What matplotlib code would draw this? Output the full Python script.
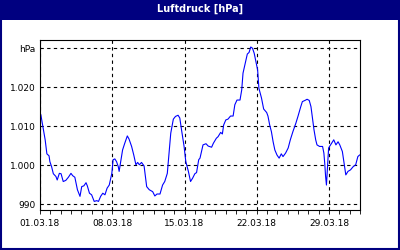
#!/usr/bin/env python3
from datetime import datetime, timedelta
import matplotlib
matplotlib.use("Agg")
import matplotlib.pyplot as plt
import matplotlib.dates as mdates
from matplotlib.patches import Rectangle

# hours since 01.03.18 00:00
hours = [2, 4, 8, 12, 16, 21, 23, 27, 31, 37, 40, 45, 49, 54, 60, 66, 72, 76, 81, 87,
         93, 97, 102, 107, 110, 115, 120, 126, 132, 136, 141, 146, 151, 156, 161, 167,
         170, 174, 178, 182, 184, 187, 192, 197, 203, 207, 213, 218, 223, 227, 231, 236,
         242, 248, 254, 262, 267, 272, 279, 285, 290, 296, 300, 304, 310, 315, 321, 325,
         329, 335, 339, 345, 350, 355, 360, 364, 369, 372, 379, 386, 391, 399, 403, 410,
         414, 420, 424, 427, 432, 437, 443, 449, 453, 458, 465, 469, 472, 479, 482, 486,
         490, 494, 498, 502, 506, 509, 515, 520, 527, 530, 534, 538, 542, 546, 551, 556,
         561, 565, 571, 577, 582, 588, 595, 600, 606, 610, 616, 621, 626, 630, 633, 637,
         641, 644, 650, 657, 660, 662, 664, 666, 668, 671, 678, 683, 688, 693, 697, 703,
         707, 711, 716, 722, 728, 734, 739, 743]
pressure = [1012.9, 1011.6, 1009.0, 1006.5, 1002.9, 1002.4, 1000.9, 999.6, 997.8, 997.1,
            996.2, 997.9, 997.8, 995.8, 996.1, 996.9, 997.9, 997.3, 996.9, 993.7,
            992.0, 994.5, 994.7, 995.5, 994.7, 992.8, 992.4, 990.7, 990.9, 990.7,
            992.0, 992.8, 992.4, 994.1, 994.9, 997.9, 1001.4, 1001.6, 1000.9, 999.6,
            998.4, 1000.5, 1003.9, 1005.6, 1007.5, 1006.7, 1004.8, 1002.6, 1000.1, 1000.7,
            1000.1, 1000.7, 999.8, 994.5, 993.7, 993.2, 992.1, 992.6, 992.6, 994.9,
            995.8, 997.9, 1003.1, 1008.2, 1011.8, 1012.5, 1012.8, 1012.1, 1009.1, 1004.8,
            1000.9, 998.4, 995.8, 996.7, 997.8, 998.1, 1001.4, 1001.8, 1005.2, 1005.5,
            1004.9, 1004.6, 1005.6, 1006.9, 1007.3, 1008.4, 1008.0, 1010.3, 1011.6, 1011.8,
            1012.6, 1012.6, 1015.5, 1016.7, 1016.7, 1019.3, 1023.6, 1027.0, 1028.5, 1028.9,
            1030.3, 1030.0, 1028.7, 1026.6, 1024.4, 1019.7, 1017.2, 1014.4, 1013.5, 1012.6,
            1010.3, 1008.6, 1006.0, 1003.9, 1002.6, 1001.8, 1002.9, 1002.2, 1003.1, 1004.4,
            1006.5, 1008.6, 1010.8, 1012.6, 1014.9, 1016.3, 1016.6, 1016.9, 1016.6, 1015.0,
            1012.5, 1009.1, 1006.5, 1005.2, 1004.8, 1004.8, 1003.1, 1000.5, 997.1, 994.9,
            998.8, 1004.4, 1005.6, 1006.5, 1005.2, 1006.0, 1005.2, 1003.5, 1000.5, 997.5,
            998.4, 998.8, 999.6, 1000.1, 1002.2, 1002.6]

y_ticks = [990, 1000, 1010, 1020, 1030]
y_labels = ["990", "1.000", "1.010", "1.020", "hPa"]
week_days = [1, 8, 15, 22, 29]

NAVY = "#000080"
start = datetime(2018, 3, 1)
times = [start + timedelta(hours=h) for h in hours]

fig = plt.figure(figsize=(4, 2.5), dpi=100)
fig.patch.set_facecolor("white")

# title bar and frame
fig.patches.append(Rectangle((0, 0.92), 1, 0.08, transform=fig.transFigure,
                             facecolor=NAVY, edgecolor="none", zorder=0))
fig.patches.append(Rectangle((0.002, 0.003), 0.995, 0.995, transform=fig.transFigure,
                             facecolor="none", edgecolor=NAVY, linewidth=1.5, zorder=1))
fig.text(0.5, 0.963, "Luftdruck [hPa]", color="white", fontsize=7, fontweight="bold",
         ha="center", va="center")

ax = fig.add_axes([0.1, 0.16, 0.8, 0.68])
ax.plot(times, pressure, color="#0000ff", linewidth=0.8)

ax.set_xlim(start, start + timedelta(days=31))
ax.set_ylim(988.5, 1032.1)
ax.set_yticks(y_ticks)
ax.set_yticklabels(y_labels)

ax.set_xticks([datetime(2018, 3, d) for d in week_days])
ax.xaxis.set_major_formatter(mdates.DateFormatter("%d.%m.%y"))
ax.xaxis.set_minor_locator(mdates.DayLocator())

ax.grid(True, which="major", color="black", linestyle=(0, (3, 3)), linewidth=0.8)
ax.tick_params(axis="x", which="both", direction="out", length=3, width=0.6,
               labelsize=6.5, pad=3.5)
ax.tick_params(axis="y", length=0, labelsize=6.5, pad=3)
for s in ax.spines.values():
    s.set_color("black")
    s.set_linewidth(0.8)

fig.savefig("out.png", dpi=100)
